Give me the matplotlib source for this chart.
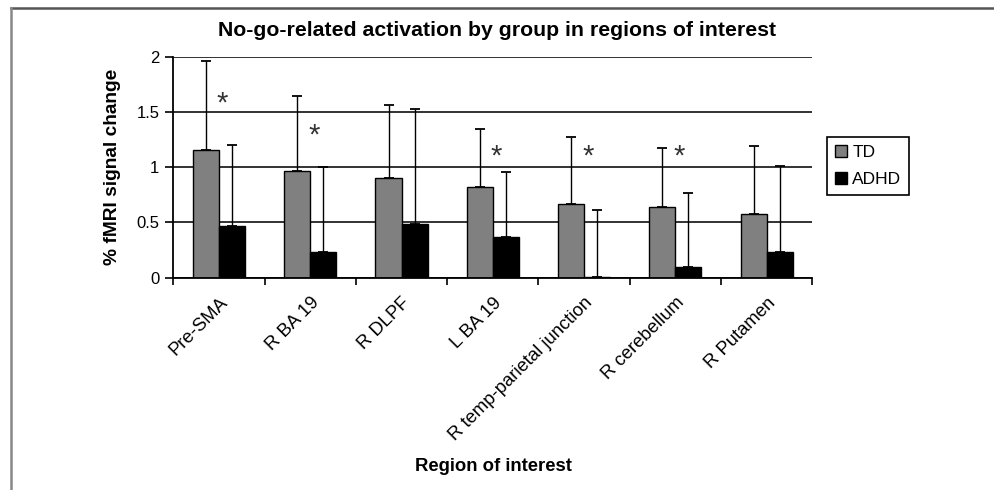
import numpy as np
import matplotlib
matplotlib.use("Agg")
from matplotlib import pyplot as plt
from matplotlib.lines import Line2D
from matplotlib.patches import Patch

plt.rcParams['font.family'] = ['Liberation Sans', 'DejaVu Sans']

regions = ["Pre-SMA", "R BA 19", "R DLPF", "L BA 19",
           "R temp-parietal junction", "R cerebellum", "R Putamen"]
td = [1.16, 0.97, 0.90, 0.82, 0.67, 0.64, 0.58]
td_err = [0.80, 0.67, 0.66, 0.53, 0.60, 0.53, 0.61]
adhd = [0.47, 0.235, 0.485, 0.37, 0.01, 0.10, 0.235]
adhd_err = [0.73, 0.77, 1.04, 0.59, 0.60, 0.67, 0.78]
# significance markers (height in % units, None = no star)
star_y = [1.63, 1.34, None, 1.15, 1.15, 1.15, None]

fig = plt.figure(figsize=(9.94, 4.9), dpi=100)
ax = fig.add_axes([0.1744, 0.4333, 0.6428, 0.451])

x = np.arange(len(regions))
w = 1 / 3.5

ax.set_axisbelow(True)
ax.yaxis.grid(True, color="#222222", linewidth=1.3)
ax.bar(x - w/2, td, w, color="#808080", edgecolor="black", linewidth=1, label="TD", zorder=2)
ax.bar(x + w/2, adhd, w, color="black", edgecolor="black", linewidth=1, label="ADHD", zorder=2)
ax.errorbar(x - w/2, td, yerr=[np.zeros(7), td_err], fmt="none", ecolor="black",
            elinewidth=1, capsize=3.3, capthick=1.3, zorder=3)
ax.errorbar(x + w/2, adhd, yerr=[np.zeros(7), adhd_err], fmt="none", ecolor="black",
            elinewidth=1, capsize=3.3, capthick=1.3, zorder=3)

for i, s in enumerate(star_y):
    if s is not None:
        ax.text(i + 0.04, s - 0.05, "*", ha="center", va="center", fontsize=21, color="#333333")

ax.set_xlim(-0.5, 6.5)
ax.set_ylim(0, 2)
ax.set_yticks([0, 0.5, 1, 1.5, 2])
ax.set_yticklabels(["0", "0.5", "1", "1.5", "2"])
ax.set_xticks(np.arange(-0.5, 7, 1))
ax.set_xticklabels([])
ax.set_xticks(x, minor=True)
ax.set_xticklabels(regions, minor=True, rotation=45, ha="right", rotation_mode="anchor")
ax.tick_params(axis="x", which="minor", length=0, pad=12, labelsize=13.3)
ax.tick_params(axis="x", which="major", length=5, width=1.2, direction="out")
ax.tick_params(axis="y", length=6, width=1.2, direction="out", labelsize=12, pad=4)
ax.spines["top"].set_visible(False)
ax.spines["right"].set_visible(False)
ax.spines["left"].set_linewidth(1.3)
ax.spines["bottom"].set_linewidth(1.3)

ax.set_ylabel("% fMRI signal change", fontsize=13.8, fontweight="bold", labelpad=11)
fig.text(0.496, 0.047, "Region of interest", fontsize=13.3, fontweight="bold", ha="center", va="center")
fig.text(0.500, 0.938, "No-go-related activation by group in regions of interest",
         fontsize=15.3, fontweight="bold", ha="center", va="center")

handles = [Patch(facecolor="#808080", edgecolor="black", label="TD"),
           Patch(facecolor="black", edgecolor="black", label="ADHD")]
leg = fig.legend(handles=handles, loc="upper left", bbox_to_anchor=(0.832, 0.721),
                 fontsize=12.5, fancybox=False, framealpha=1, edgecolor="black",
                 handlelength=0.7, handleheight=0.7, handletextpad=0.3, borderpad=0.45,
                 labelspacing=0.7, borderaxespad=0)
leg.get_frame().set_linewidth(1.2)

# outer frame (top and left edges only)
fig.add_artist(Line2D([11/994, 1], [1 - 8/490, 1 - 8/490], color="#555555", linewidth=1.8))
fig.add_artist(Line2D([11/994, 11/994], [0, 1 - 8/490], color="#888888", linewidth=1.8))

fig.savefig("out.png", dpi=100)
